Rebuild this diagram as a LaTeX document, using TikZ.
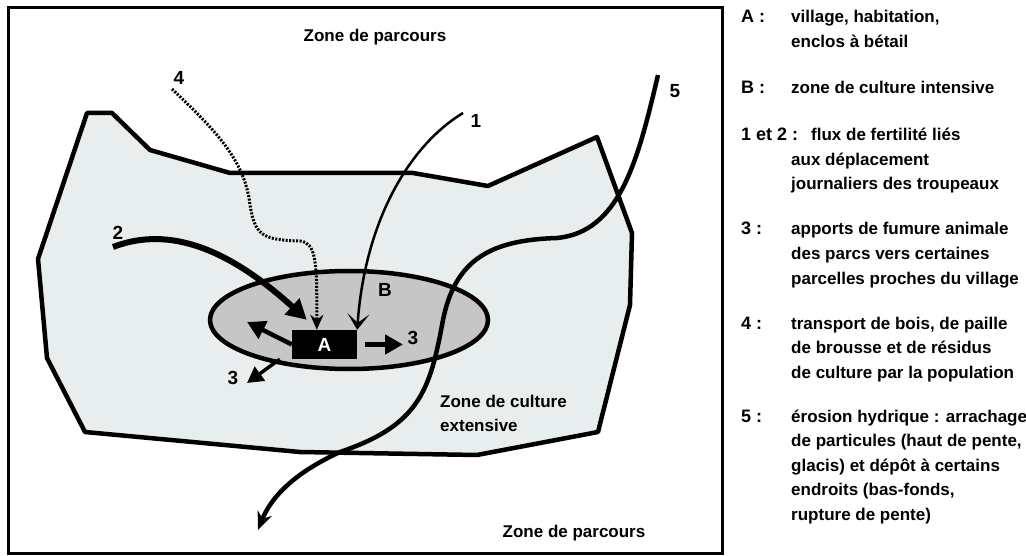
\documentclass[tikz,border=0pt]{standalone}
\usepackage{fontspec}
\setmainfont{Liberation Sans}
\usetikzlibrary{arrows.meta,shapes.geometric}
\definecolor{pastureblue}{RGB}{232,238,238}
\definecolor{fieldgray}{RGB}{198,198,198}

\begin{document}
\begin{tikzpicture}[x=1pt,y=-1pt,>=Stealth,
  lbl/.style={font=\fontsize{19}{19}\selectfont\bfseries,inner sep=0pt},
  zonetxt/.style={font=\fontsize{17}{24}\selectfont\bfseries,inner sep=0pt},
  legtxt/.style={font=\fontsize{17}{24}\selectfont\bfseries,anchor=base west,inner sep=0pt},
  legkey/.style={legtxt,font=\fontsize{18}{24}\selectfont\bfseries},
  fumure/.style={line width=4.5pt,-{Triangle[length=18pt,width=19pt]}}]
  \useasboundingbox (0,0) rectangle (1026,556);
  % cadre
  \draw[line width=3pt] (8,8) rectangle (722,553);
  % zone de culture extensive
  \draw[line width=4.5pt,line join=round,fill=pastureblue]
    (87,113) -- (112,113) -- (150,150) -- (230,173) -- (413,173) -- (488,186)
    -- (597,137) -- (632,233) -- (630,305) -- (598,432) -- (477,455)
    -- (300,452) -- (85,432) -- (47,358) -- (38,259) -- cycle;
  % zone de culture intensive
  \node[ellipse,draw,line width=4.5pt,fill=fieldgray,minimum width=278pt,
    minimum height=98pt,inner sep=0pt] (zoneB) at (349,320) {};
  \node[lbl] (nB) at (385,290) {B};
  % village
  \node[lbl,fill=black,text=white,minimum width=65pt,minimum height=29pt] (vil)
    at (324.5,344.5) {A};

  % 5 : erosion
  \coordinate (s5) at (658,75);
  \coordinate (e5) at (258,530);
  \draw[line width=4.5pt,-{Stealth[length=18pt,width=15pt]}] (s5)
    .. controls (638,160) and (620,232) .. (557,238)
    .. controls (490,240) and (455,260) .. (443,320)
    .. controls (430,390) and (420,425) .. (340,452)
    .. controls (290,475) and (270,500) .. (e5);
  \node[lbl] (n5) at (675,91) {5};

  % 1 et 2 : troupeaux
  \coordinate (s1) at (463,113);
  \draw[line width=2.5pt,-{Stealth[length=16pt,width=22pt,inset=9pt]}] (s1)
    .. controls (410,145) and (365,220) .. (vil.north east);
  \node[lbl] (n1) at (476,121) {1};
  \coordinate (s2) at (113,247);
  \draw[line width=6pt,-{Triangle[length=20pt,width=21pt]}] (s2)
    .. controls (170,225) and (230,250) .. ([xshift=15pt,yshift=10pt]vil.north west);
  \node[lbl] (n2) at (118,233) {2};

  % 4 : bois, paille
  \coordinate (s4) at (172,89);
  \draw[line width=3pt,dash pattern=on 2pt off 1.5pt,-{Stealth[length=15pt,width=13pt]}] (s4)
    .. controls (215,130) and (245,160) .. (250,205)
    .. controls (255,235) and (262,240) .. (300,241)
    .. controls (316,243) and (317,260) .. ([xshift=25pt]vil.north west);
  \node[lbl] (n4) at (179,78) {4};

  % 3 : fumure
  \coordinate (e3a) at (403,344.5);
  \coordinate (e3b) at (247,322);
  \coordinate (e3c) at (247,383);
  \draw[fumure] ([xshift=8pt]vil.east) -- (e3a);
  \draw[fumure] (vil.west) -- (e3b);
  \draw[fumure,line width=3.5pt,-{Triangle[length=16pt,width=17pt]}] ([xshift=-12pt]vil.south west) -- (e3c);
  \node[lbl] (n3a) at (413,338) {3};
  \node[lbl] (n3b) at (233,378) {3};

  % zones
  \node[zonetxt] (parcN) at (375,37) {Zone de parcours};
  \node[zonetxt] (parcS) at (574,533) {Zone de parcours};
  \node[legtxt] (cult1) at (440,407) {Zone de culture};
  \node[legtxt] (cult2) at (440,431) {extensive};

  % legende
  \node[legkey] (kA) at (741,23) {A :};
  \node[legkey] (kB) at (741,94) {B :};
  \node[legkey] (k12) at (741,141) {1 et 2 :};
  \node[legtxt] (k12t) at (811,141) {flux de fertilité liés};
  \node[legkey] (k3) at (741,235) {3 :};
  \node[legkey] (k4) at (741,329) {4 :};
  \node[legkey] (k5) at (741,422) {5 :};
  \foreach \yy/\txt [count=\i] in {23/{village, habitation,}, 47.5/{enclos à bétail},
      94/{zone de culture intensive},
      165.5/{aux déplacement}, 190/{journaliers des troupeaux},
      235/{apports de fumure animale}, 259.5/{des parcs vers certaines},
      284/{parcelles proches du village},
      329/{transport de bois, de paille}, 353.5/{de brousse et de résidus},
      378/{de culture par la population},
      422/{érosion hydrique : arrachage}, 446.5/{de particules (haut de pente,},
      471/{glacis) et dépôt à certains}, 495.5/{endroits (bas-fonds,},
      520/{rupture de pente)}}
    \node[legtxt] (leg\i) at (791,\yy) {\txt};
\end{tikzpicture}
\end{document}
